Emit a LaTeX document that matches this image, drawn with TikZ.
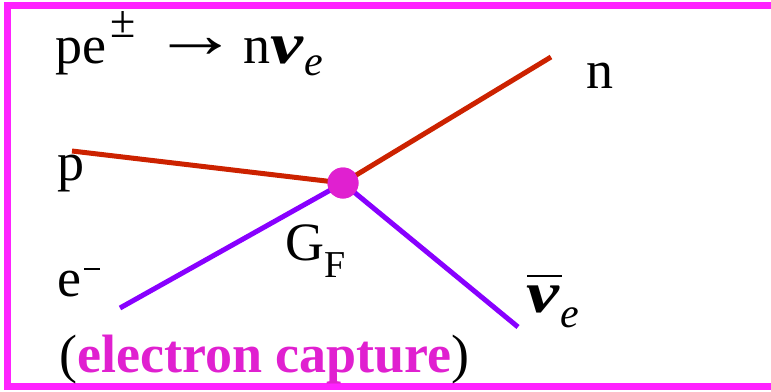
\documentclass[tikz,border=0pt]{standalone}
\usepackage{fontspec}
\setmainfont{Liberation Serif}
\definecolor{framemag}{RGB}{255,34,255}
\definecolor{vertexmag}{RGB}{224,32,208}
\definecolor{nucleonred}{RGB}{204,34,0}
\definecolor{leptonviolet}{RGB}{136,0,255}
\newcommand{\bignu}{\scalebox{1.28}[1]{\fontsize{58}{60}\selectfont\bfseries\itshape ν}}
\newcommand{\subscripte}[1]{\raisebox{#1}{\fontsize{42}{42}\selectfont\textit{e}}}
\newcommand{\nubar}{\rlap{\raisebox{35pt}{\hspace{1pt}\rule{35pt}{2.5pt}}}\bignu}
\tikzset{
  lbl/.style={anchor=base west,inner sep=0pt,font=\rmfamily\fontsize{54}{60}\selectfont},
  nucleon/.style={nucleonred,line width=5pt},
  lepton/.style={leptonviolet,line width=5pt},
}
\begin{document}
\begin{tikzpicture}[x=1pt,y=-1pt]
  \useasboundingbox (0,0) rectangle (771,391);
  % frame, open to the right
  \draw[framemag,line width=7pt] (790,5) -- (7,5) -- (7,386) -- (790,386);
  % vertex and free ends
  \node[circle,fill=vertexmag,minimum size=31pt,inner sep=0pt] (vtx) at (343,183) {};
  \coordinate (pin) at (72,151);
  \coordinate (ein) at (120,308);
  \coordinate (nout) at (551,57);
  \coordinate (nuout) at (518,327);
  % lines
  \draw[nucleon] (pin) -- (vtx.center);
  \draw[nucleon] (vtx.center) -- (nout);
  \draw[lepton] (ein) -- (vtx.center);
  \draw[lepton] (vtx.center) -- (nuout);
  \node[circle,fill=vertexmag,minimum size=31pt,inner sep=0pt] at (vtx) {};
  % labels
  \node[lbl] (reac) at (55,63) {pe\hspace{4pt}\raisebox{26pt}{\fontsize{46}{46}\selectfont ±}\hspace{17pt}\raisebox{6pt}{\bfseries\scalebox{1.6}[1.25]{→}}\hspace{5pt}n\bignu\hspace{1pt}\subscripte{-12pt}};
  \node[lbl] (nlab) at (586,88) {n};
  \node[lbl] (plab) at (57,180) {p};
  \node[lbl] (elab) at (57,296) {e\hspace{3pt}\raisebox{26pt}{\rule{16pt}{2.2pt}}};
  \node[lbl] (gf) at (285,260) {G\raisebox{-17pt}{\fontsize{38}{38}\selectfont F}};
  \node[lbl] (nulab) at (526,312) {\nubar\hspace{1pt}\subscripte{-15pt}};
  \node[lbl] (ec) at (59,372) {(\textcolor{vertexmag}{\bfseries electron capture})};
\end{tikzpicture}
\end{document}
